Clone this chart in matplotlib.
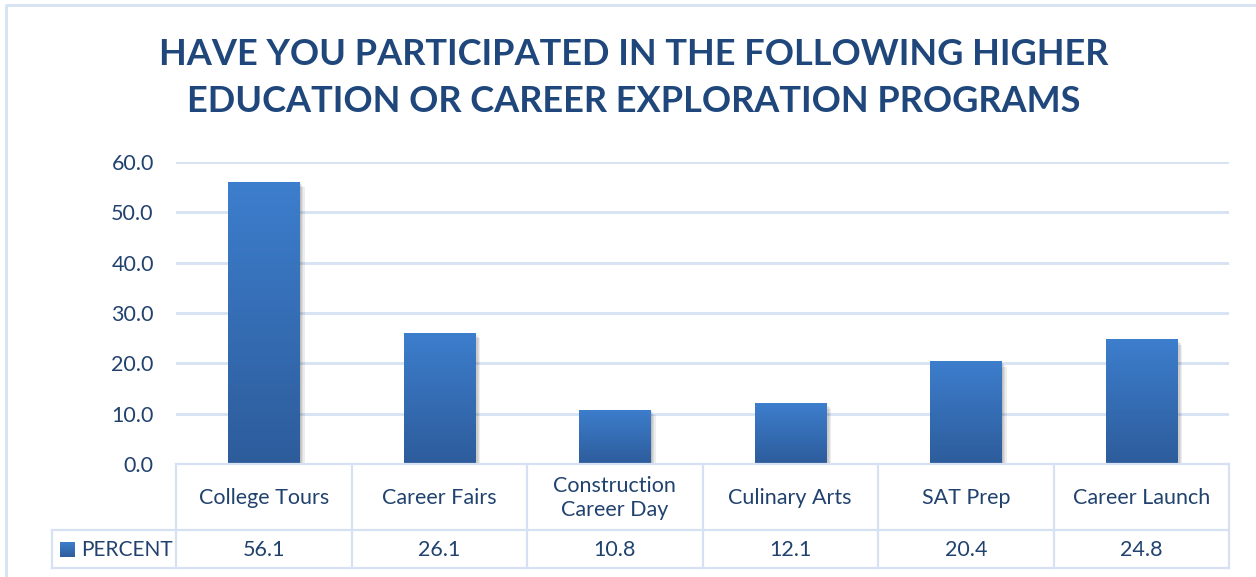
import numpy as np
import matplotlib
matplotlib.use("Agg")
import matplotlib.pyplot as plt
import matplotlib.patheffects as pe
from matplotlib.colors import LinearSegmentedColormap

programs = ["College Tours", "Career Fairs", "Construction\nCareer Day",
            "Culinary Arts", "SAT Prep", "Career Launch"]
percent = [56.1, 26.1, 10.8, 12.1, 20.4, 24.8]
series_name = "PERCENT"
yticks = [0, 10, 20, 30, 40, 50, 60]
title = "HAVE YOU PARTICIPATED IN THE FOLLOWING HIGHER\nEDUCATION OR CAREER EXPLORATION PROGRAMS"

plt.rcParams['font.family'] = ['Lato', 'DejaVu Sans']

W, H = 1256, 577
txt = '#21426f'
line_c = '#d6e2f3'
top_c, bot_c = '#3d7ecd', '#2d5c9b'
grad = LinearSegmentedColormap.from_list('bar', [bot_c, top_c])

fig = plt.figure(figsize=(W / 100, H / 100), dpi=100)

# layout in pixels (from top-left)
L, R, T, B = 176, 1229, 162, 464
row1, row2 = 530, 568
head_l = 52

def fx(px):
    return px / W

def fy(py):
    return 1 - py / H

ax = fig.add_axes([fx(L), fy(B), fx(R) - fx(L), fy(T) - fy(B)])
ax.set_xlim(-0.5, len(programs) - 0.5)
ax.set_ylim(0, 60)
ax.set_yticks(yticks)
ax.set_yticklabels([f"{v:.1f}" for v in yticks], color=txt, fontsize=15.5)
ax.tick_params(axis='y', length=0, pad=16)
ax.set_xticks([])
for s in ax.spines.values():
    s.set_visible(False)
ax.grid(axis='y', color=line_c, lw=2)
ax.set_axisbelow(True)

x = np.arange(len(programs))
shadow = [pe.SimplePatchShadow(offset=(d, -d), shadow_rgbFace='k', alpha=0.07)
          for d in (4, 3, 2, 1)]
bars = ax.bar(x, percent, width=0.405, color=top_c, zorder=3,
              path_effects=shadow + [pe.Normal()])
g = np.linspace(0, 1, 256).reshape(-1, 1)
for b in bars:
    x0, y0 = b.get_x(), b.get_y()
    im = ax.imshow(g, cmap=grad, origin='lower', aspect='auto', zorder=4,
                   extent=(x0, x0 + b.get_width(), y0, y0 + b.get_height()))
    im.set_clip_path(b)
ax.set_xlim(-0.5, len(programs) - 0.5)
ax.set_ylim(0, 60)

# overlay in pixel coordinates for the border, title and data table
ov = fig.add_axes([0, 0, 1, 1], zorder=-1)
ov.set_xlim(0, W)
ov.set_ylim(H, 0)
ov.axis('off')
ov.plot([6, 6, W + 5], [H + 5, 5, 5], color=line_c, lw=2)

ov.text(634, 78, title, ha='center', va='center', fontsize=26,
        fontweight='bold', color='#1f477b', linespacing=1.55)

tab = fig.add_axes([0, 0, 1, 1], zorder=5)
tab.set_xlim(0, W)
tab.set_ylim(H, 0)
tab.axis('off')
colw = (R - L) / len(programs)
edges = [L + i * colw for i in range(len(programs) + 1)]
lw = 1.6
tab.plot([L, R], [B, B], color=line_c, lw=lw)
tab.plot([head_l, R], [row1, row1], color=line_c, lw=lw)
tab.plot([head_l, R], [row2, row2], color=line_c, lw=lw)
tab.plot([head_l, head_l], [row1, row2], color=line_c, lw=lw)
for e in edges:
    tab.plot([e, e], [B, row2], color=line_c, lw=lw)

for i, (name, val) in enumerate(zip(programs, percent)):
    cx = L + (i + 0.5) * colw
    tab.text(cx, (B + row1) / 2 + 1, name, ha='center', va='center',
             fontsize=15.5, color=txt, linespacing=1.2)
    tab.text(cx, (row1 + row2) / 2 + 1, f"{val:.1f}", ha='center',
             va='center', fontsize=15.5, color=txt)

key = tab.imshow(g, cmap=grad, origin='lower', aspect='auto',
                 extent=(60, 75, 557, 542), zorder=6)
tab.set_xlim(0, W)
tab.set_ylim(H, 0)
tab.text(81, (row1 + row2) / 2 + 1, series_name, ha='left', va='center',
         fontsize=15, color=txt)

fig.savefig('out.png', dpi=100, facecolor='white')
